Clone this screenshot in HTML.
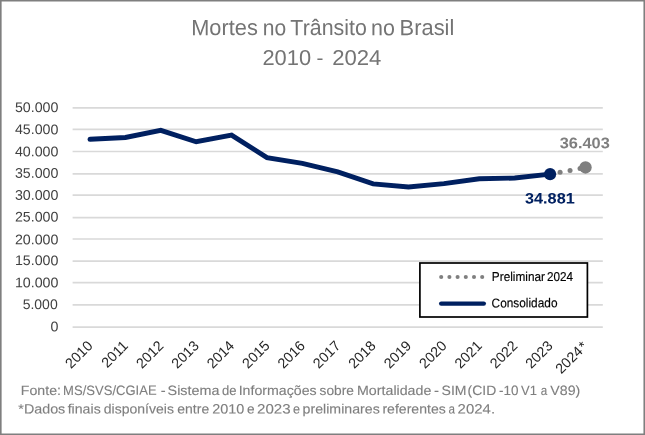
<!DOCTYPE html>
<html lang="pt-BR">
<head>
<meta charset="utf-8">
<title>Mortes no Trânsito no Brasil 2010 - 2024</title>
<style>
html,body{margin:0;padding:0;background:#fff;}
body{width:645px;height:435px;overflow:hidden;position:relative;font-family:"Liberation Sans",sans-serif;}
#chart{position:absolute;left:0;top:0;width:645px;height:435px;display:block;}
text{font-family:"Liberation Sans",sans-serif;}
</style>
</head>
<body>
<svg id="chart" width="645" height="435" viewBox="0 0 645 435">
<rect x="0" y="0" width="645" height="435" fill="#ffffff"/>

<g stroke="#d9d9d9" stroke-width="1.7" fill="none">
<line x1="72.6" y1="107.90" x2="602.8" y2="107.90"/>
<line x1="72.6" y1="129.30" x2="602.8" y2="129.30"/>
<line x1="72.6" y1="151.50" x2="602.8" y2="151.50"/>
<line x1="72.6" y1="173.90" x2="602.8" y2="173.90"/>
<line x1="72.6" y1="195.20" x2="602.8" y2="195.20"/>
<line x1="72.6" y1="217.60" x2="602.8" y2="217.60"/>
<line x1="72.6" y1="239.00" x2="602.8" y2="239.00"/>
<line x1="72.6" y1="261.10" x2="602.8" y2="261.10"/>
<line x1="72.6" y1="282.60" x2="602.8" y2="282.60"/>
<line x1="72.6" y1="304.90" x2="602.8" y2="304.90"/>
<line x1="72.6" y1="327.10" x2="602.8" y2="327.10"/>
</g>
<g font-size="14" fill="#404040" text-anchor="end">
<text transform="translate(58.4,331.15) scale(1.015,1) rotate(0.1)">0</text>
<text transform="translate(57.7,309.00) scale(1.0,1) rotate(0.1)">5.000</text>
<text transform="translate(58.4,287.35) scale(1.015,1) rotate(0.1)">10.000</text>
<text transform="translate(58.4,265.15) scale(1.015,1) rotate(0.1)">15.000</text>
<text transform="translate(58.4,244.20) scale(1.015,1) rotate(0.1)">20.000</text>
<text transform="translate(58.4,221.50) scale(1.015,1) rotate(0.1)">25.000</text>
<text transform="translate(58.4,199.85) scale(1.015,1) rotate(0.1)">30.000</text>
<text transform="translate(58.4,177.76) scale(1.015,1) rotate(0.1)">35.000</text>
<text transform="translate(58.4,156.30) scale(1.015,1) rotate(0.1)">40.000</text>
<text transform="translate(58.4,134.15) scale(1.015,1) rotate(0.1)">45.000</text>
<text transform="translate(58.4,112.00) scale(1.015,1) rotate(0.1)">50.000</text>
</g>
<rect x="419.9" y="263" width="167.5" height="54.0" fill="#ffffff" stroke="#000000" stroke-width="1.7"/>
<g fill="#7f7f7f"><circle cx="441.20" cy="277.05" r="2.05"/><circle cx="449.40" cy="277.05" r="2.05"/><circle cx="457.60" cy="277.05" r="2.05"/><circle cx="465.80" cy="277.05" r="2.05"/><circle cx="474.00" cy="277.05" r="2.05"/><circle cx="482.20" cy="277.05" r="2.05"/></g>
<line x1="441.2" y1="303.6" x2="483.8" y2="303.6" stroke="#002060" stroke-width="4.4" stroke-linecap="round"/>
<g fill="#7f7f7f"><circle cx="560.08" cy="172.26" r="2.5"/><circle cx="570.06" cy="170.38" r="2.5"/><circle cx="580.03" cy="168.50" r="2.5"/></g>
<polyline points="90.00,139.25 125.39,137.45 160.78,130.33 196.18,141.78 231.57,135.15 266.96,157.62 302.36,163.34 337.75,171.97 373.14,183.89 408.54,187.00 443.93,183.62 479.32,178.82 514.72,178.00 550.11,174.14" fill="none" stroke="#002060" stroke-width="4.95" stroke-linejoin="miter" stroke-linecap="round"/>
<circle cx="550.11" cy="174.14" r="6.05" fill="#002060"/>
<circle cx="585.50" cy="167.47" r="6.2" fill="#7f7f7f"/>
<g font-size="14.3" fill="#262626" text-anchor="end">
<text transform="translate(93.60,346.70) rotate(-45)">2010</text>
<text transform="translate(128.99,346.70) rotate(-45)">2011</text>
<text transform="translate(164.38,346.70) rotate(-45)">2012</text>
<text transform="translate(199.78,346.70) rotate(-45)">2013</text>
<text transform="translate(235.17,346.70) rotate(-45)">2014</text>
<text transform="translate(270.56,346.70) rotate(-45)">2015</text>
<text transform="translate(305.96,346.70) rotate(-45)">2016</text>
<text transform="translate(341.35,346.70) rotate(-45)">2017</text>
<text transform="translate(376.74,346.70) rotate(-45)">2018</text>
<text transform="translate(412.14,346.70) rotate(-45)">2019</text>
<text transform="translate(447.53,346.70) rotate(-45)">2020</text>
<text transform="translate(482.92,346.70) rotate(-45)">2021</text>
<text transform="translate(518.32,346.70) rotate(-45)">2022</text>
<text transform="translate(553.71,346.70) rotate(-45)">2023</text>
<text transform="translate(588.50,347.30) rotate(-45)">2024<tspan dx="1.2">*</tspan></text>
</g>
<text transform="translate(191.16,35.15) scale(0.9821,1) rotate(-0.1)" font-size="22.2" fill="#747474">Mortes</text>
<text transform="translate(262.83,35.15) scale(0.9500,1) rotate(-0.1)" font-size="22.2" fill="#747474">no</text>
<text transform="translate(290.37,35.15) scale(0.9636,1) rotate(-0.1)" font-size="22.2" fill="#747474">Trânsito</text>
<text transform="translate(371.11,35.15) scale(0.9678,1) rotate(-0.1)" font-size="22.2" fill="#747474">no</text>
<text transform="translate(399.55,35.15) scale(0.9868,1) rotate(-0.1)" font-size="22.2" fill="#747474">Brasil</text>
<text transform="translate(262.40,65.0) scale(1.0146,1) rotate(-0.1)" font-size="21.6" fill="#747474">2010</text>
<text transform="translate(316.47,65.0) scale(0.9630,1) rotate(-0.1)" font-size="21.6" fill="#747474">-</text>
<text transform="translate(332.19,65.0) scale(1.0250,1) rotate(-0.1)" font-size="21.6" fill="#747474">2024</text>
<text transform="translate(20.83,395.0) scale(1.0509,1) rotate(-0.1)" font-size="13.5" stroke="#7f7f7f" stroke-width="0.12" stroke-linejoin="round" fill="#7f7f7f">Fonte:</text>
<text transform="translate(63.12,395.0) scale(0.9664,1) rotate(-0.1)" font-size="13.5" stroke="#7f7f7f" stroke-width="0.12" stroke-linejoin="round" fill="#7f7f7f">MS/SVS/CGIAE</text>
<text transform="translate(160.67,395.0) scale(1.0904,1) rotate(-0.1)" font-size="13.5" stroke="#7f7f7f" stroke-width="0.12" stroke-linejoin="round" fill="#7f7f7f">-</text>
<text transform="translate(167.58,395.0) scale(1.0652,1) rotate(-0.1)" font-size="13.5" stroke="#7f7f7f" stroke-width="0.12" stroke-linejoin="round" fill="#7f7f7f">Sistema</text>
<text transform="translate(221.94,395.0) scale(0.9694,1) rotate(-0.1)" font-size="13.5" stroke="#7f7f7f" stroke-width="0.12" stroke-linejoin="round" fill="#7f7f7f">de</text>
<text transform="translate(238.68,395.0) scale(1.0503,1) rotate(-0.1)" font-size="13.5" stroke="#7f7f7f" stroke-width="0.12" stroke-linejoin="round" fill="#7f7f7f">Informações</text>
<text transform="translate(319.58,395.0) scale(1.0194,1) rotate(-0.1)" font-size="13.5" stroke="#7f7f7f" stroke-width="0.12" stroke-linejoin="round" fill="#7f7f7f">sobre</text>
<text transform="translate(357.02,395.0) scale(1.0550,1) rotate(-0.1)" font-size="13.5" stroke="#7f7f7f" stroke-width="0.12" stroke-linejoin="round" fill="#7f7f7f">Mortalidade</text>
<text transform="translate(433.96,395.0) scale(1.1200,1) rotate(-0.1)" font-size="13.5" stroke="#7f7f7f" stroke-width="0.12" stroke-linejoin="round" fill="#7f7f7f">-</text>
<text transform="translate(441.50,395.0) scale(1.0433,1) rotate(-0.1)" font-size="13.5" stroke="#7f7f7f" stroke-width="0.12" stroke-linejoin="round" fill="#7f7f7f">SIM</text>
<text transform="translate(467.52,395.0) scale(1.0363,1) rotate(-0.1)" font-size="13.5" stroke="#7f7f7f" stroke-width="0.12" stroke-linejoin="round" fill="#7f7f7f">(CID</text>
<text transform="translate(499.12,395.0) scale(0.9992,1) rotate(-0.1)" font-size="13.5" stroke="#7f7f7f" stroke-width="0.12" stroke-linejoin="round" fill="#7f7f7f">-10</text>
<text transform="translate(521.06,395.0) scale(0.9655,1) rotate(-0.1)" font-size="13.5" stroke="#7f7f7f" stroke-width="0.12" stroke-linejoin="round" fill="#7f7f7f">V1</text>
<text transform="translate(540.79,395.0) scale(0.8661,1) rotate(-0.1)" font-size="13.5" stroke="#7f7f7f" stroke-width="0.12" stroke-linejoin="round" fill="#7f7f7f">a</text>
<text transform="translate(550.26,395.0) scale(1.0529,1) rotate(-0.1)" font-size="13.5" stroke="#7f7f7f" stroke-width="0.12" stroke-linejoin="round" fill="#7f7f7f">V89)</text>
<text transform="translate(18.32,413.5) scale(1.0604,1) rotate(-0.1)" font-size="13.5" stroke="#7f7f7f" stroke-width="0.12" stroke-linejoin="round" fill="#7f7f7f">*Dados</text>
<text transform="translate(67.67,413.5) scale(1.0490,1) rotate(-0.1)" font-size="13.5" stroke="#7f7f7f" stroke-width="0.12" stroke-linejoin="round" fill="#7f7f7f">finais</text>
<text transform="translate(103.70,413.5) scale(1.0409,1) rotate(-0.1)" font-size="13.5" stroke="#7f7f7f" stroke-width="0.12" stroke-linejoin="round" fill="#7f7f7f">disponíveis</text>
<text transform="translate(177.30,413.5) scale(1.0364,1) rotate(-0.1)" font-size="13.5" stroke="#7f7f7f" stroke-width="0.12" stroke-linejoin="round" fill="#7f7f7f">entre</text>
<text transform="translate(212.14,413.5) scale(1.0689,1) rotate(-0.1)" font-size="13.5" stroke="#7f7f7f" stroke-width="0.12" stroke-linejoin="round" fill="#7f7f7f">2010</text>
<text transform="translate(247.11,413.5) scale(1.0154,1) rotate(-0.1)" font-size="13.5" stroke="#7f7f7f" stroke-width="0.12" stroke-linejoin="round" fill="#7f7f7f">e</text>
<text transform="translate(257.00,413.5) scale(1.1191,1) rotate(-0.1)" font-size="13.5" stroke="#7f7f7f" stroke-width="0.12" stroke-linejoin="round" fill="#7f7f7f">2023</text>
<text transform="translate(292.95,413.5) scale(0.9383,1) rotate(-0.1)" font-size="13.5" stroke="#7f7f7f" stroke-width="0.12" stroke-linejoin="round" fill="#7f7f7f">e</text>
<text transform="translate(302.61,413.5) scale(1.0500,1) rotate(-0.1)" font-size="13.5" stroke="#7f7f7f" stroke-width="0.12" stroke-linejoin="round" fill="#7f7f7f">preliminares</text>
<text transform="translate(382.42,413.5) scale(1.0427,1) rotate(-0.1)" font-size="13.5" stroke="#7f7f7f" stroke-width="0.12" stroke-linejoin="round" fill="#7f7f7f">referentes</text>
<text transform="translate(448.59,413.5) scale(0.8661,1) rotate(-0.1)" font-size="13.5" stroke="#7f7f7f" stroke-width="0.12" stroke-linejoin="round" fill="#7f7f7f">a</text>
<text transform="translate(457.61,413.5) scale(1.1089,1) rotate(-0.1)" font-size="13.5" stroke="#7f7f7f" stroke-width="0.12" stroke-linejoin="round" fill="#7f7f7f">2024.</text>
<text transform="translate(491.83,281.0) scale(0.9149,1) rotate(-0.1)" font-size="12.9" stroke="#000000" stroke-width="0.15" stroke-linejoin="round" fill="#000000">Preliminar</text>
<text transform="translate(546.99,281.0) scale(0.9104,1) rotate(-0.1)" font-size="12.9" stroke="#000000" stroke-width="0.15" stroke-linejoin="round" fill="#000000">2024</text>
<text transform="translate(491.58,307.4) scale(0.9205,1) rotate(-0.1)" font-size="12.9" stroke="#000000" stroke-width="0.15" stroke-linejoin="round" fill="#000000">Consolidado</text>
<text transform="translate(524.97,203.6) scale(1.0789,1) rotate(-0.1)" font-size="15.1" font-weight="bold" fill="#002060">34.881</text>
<text transform="translate(559.67,148.3) scale(1.0727,1) rotate(-0.1)" font-size="15.3" font-weight="bold" fill="#7f7f7f">36.403</text>
<path fill="#7f7f7f" fill-rule="evenodd" d="M0 0H645V435H0Z M1.62 1.5V433.45H643.45V1.5Z"/>
</svg>
</body>
</html>
